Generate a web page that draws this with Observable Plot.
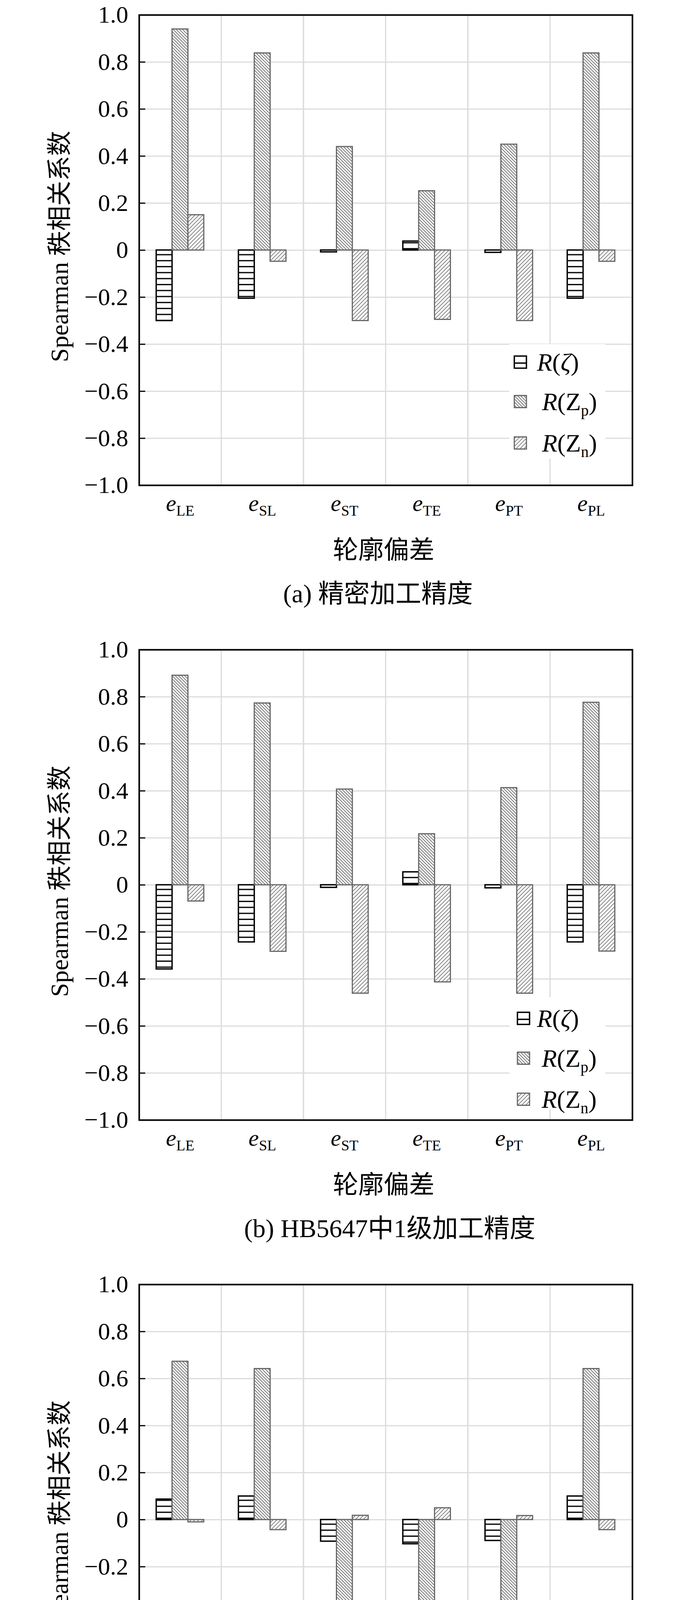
<!DOCTYPE html>
<html>
<head>
<meta charset="utf-8">
<script src="https://cdn.jsdelivr.net/npm/d3@7"></script>
<script src="https://cdn.jsdelivr.net/npm/@observablehq/plot@0.6"></script>
<style>
  html, body { margin: 0; background: #fff; }
  svg { display: block; }
  .cap {
    width: 1772px; box-sizing: border-box; height: 80px; line-height: 80px;
    margin-top: 20px; margin-bottom: 65px;
    font-size: 66px; text-align: center; color: #000; white-space: nowrap;
    font-family: "Liberation Serif", "Noto Sans CJK SC", serif;
  }
  .cap.last { margin-bottom: 0; }
</style>
</head>
<body>
<div id="root"></div>
<script>
// ---------------- data ----------------
const categories = ["LE", "SL", "ST", "TE", "PT", "PL"];
const seriesNames = ["R(ζ)", "R(Zp)", "R(Zn)"];
const yTicks = [-1, -0.8, -0.6, -0.4, -0.2, 0, 0.2, 0.4, 0.6, 0.8, 1];
const yTickLabels = ["−1.0", "−0.8", "−0.6", "−0.4", "−0.2", "0", "0.2", "0.4", "0.6", "0.8", "1.0"];

// (a) 精密加工精度
const aZeta = [-0.30, -0.205, -0.008, 0.038, -0.010, -0.205];
const aZp   = [0.94, 0.838, 0.44, 0.252, 0.45, 0.838];
const aZn   = [0.15, -0.048, -0.30, -0.295, -0.30, -0.048];
// (b) HB5647中1级加工精度
const bZeta = [-0.358, -0.243, -0.011, 0.055, -0.013, -0.243];
const bZp   = [0.891, 0.773, 0.407, 0.217, 0.413, 0.776];
const bZn   = [-0.069, -0.283, -0.461, -0.413, -0.461, -0.282];
// (c) HB5647中2级加工精度
const cZeta = [0.087, 0.100, -0.092, -0.103, -0.089, 0.100];
const cZp   = [0.673, 0.642, -0.667, -0.634, -0.667, 0.642];
const cZn   = [-0.010, -0.043, 0.018, 0.050, 0.017, -0.043];

const captions = ["(a) 精密加工精度", "(b) HB5647中1级加工精度", "(c) HB5647中2级加工精度"];
const xTitle = "轮廓偏差";
const yTitle = "Spearman 秩相关系数";

// ---------------- layout / style ----------------
const FONT = '"Liberation Serif", "Noto Sans CJK SC", serif';
const W = 1772, H = 1460, ML = 356, MR = 153, MT = 38, MB = 218;
const legendLayouts = [
  {box: [1304, 881, 1550, 1174], sx: 1317, rows: [927, 1028, 1134], tx: [1375, 1388, 1388]},
  {box: [1305, 928, 1550, 1215], sx: 1325, rows: [982, 1084, 1189], tx: [1375, 1387, 1387]},
  {box: [1339, 895, 1585, 1189], sx: 1356, rows: [938, 1040, 1145], tx: [1410, 1422, 1422]}
];
const capPad = [164, 224, 224];

function rowsOf(values) {
  return values.map((v, i) => ({cat: categories[i], value: v}));
}

function panel(k, series) {
  const bw = (W - ML - MR) / categories.length;
  const barW = 40.6, off0 = 44;
  const styles = [
    {fill: `url(#pz-${k})`, stroke: "#000", strokeWidth: 3.5},
    {fill: `url(#pp-${k})`, stroke: "#666", strokeWidth: 3},
    {fill: `url(#pn-${k})`, stroke: "#666", strokeWidth: 3}
  ];
  const barMarks = series.map((vals, i) => {
    const il = off0 + barW * i;
    return Plot.barY(rowsOf(vals), {
      x: "cat", y: "value",
      insetLeft: il, insetRight: bw - il - barW,
      ...styles[i]
    });
  });

  const plot = Plot.plot({
    width: W, height: H,
    marginLeft: ML, marginRight: MR, marginTop: MT, marginBottom: MB,
    style: {fontFamily: FONT, fontSize: "62px", color: "#000", background: "#fff", overflow: "visible"},
    x: {type: "band", domain: categories, padding: 0, round: false, axis: null},
    y: {domain: [-1, 1], ticks: yTicks, tickFormat: d => yTickLabels[yTicks.indexOf(d)],
        tickSize: 0, tickPadding: 28, label: null},
    marks: [
      Plot.ruleY(yTicks, {y: d => d, stroke: "#dcdcdc", strokeWidth: 3}),
      Plot.barY(categories, {x: d => d, y1: () => -1, y2: () => 1, fill: "none", stroke: "#dcdcdc", strokeWidth: 3}),
      ...barMarks,
      Plot.tickY(yTicks, {y: d => d, stroke: "#000", strokeWidth: 3, insetRight: (W - ML - MR) - 16}),
      Plot.frame({stroke: "#000", strokeWidth: 4})
    ]
  });

  const s = d3.select(plot);
  const sx = plot.scale("x"), sy = plot.scale("y");
  const y0 = sy.apply(0), yBottom = sy.apply(-1);

  // tick labels in serif
  s.selectAll("text").attr("font-family", FONT).attr("font-size", 62).attr("fill", "#000");

  // patterns
  const defs = s.insert("defs", ":first-child");
  const pz = defs.append("pattern").attr("id", `pz-${k}`).attr("patternUnits", "userSpaceOnUse")
    .attr("width", 20).attr("height", 15.3).attr("patternTransform", `translate(0,${y0})`);
  pz.append("rect").attr("width", 20).attr("height", 15.3).attr("fill", "#fff");
  pz.append("line").attr("x1", -1).attr("x2", 21).attr("y1", 12).attr("y2", 12)
    .attr("stroke", "#000").attr("stroke-width", 3.2);
  const pp = defs.append("pattern").attr("id", `pp-${k}`).attr("patternUnits", "userSpaceOnUse")
    .attr("width", 8).attr("height", 8);
  pp.append("rect").attr("width", 8).attr("height", 8).attr("fill", "#fff");
  pp.append("path").attr("d", "M-2,-2L10,10M-2,6L2,10M6,-2L10,2")
    .attr("stroke", "#6a6a6a").attr("stroke-width", 1.8).attr("fill", "none");
  const pn = defs.append("pattern").attr("id", `pn-${k}`).attr("patternUnits", "userSpaceOnUse")
    .attr("width", 10).attr("height", 10);
  pn.append("rect").attr("width", 10).attr("height", 10).attr("fill", "#fff");
  pn.append("path").attr("d", "M-2,12L12,-2M-2,2L2,-2M8,12L12,8")
    .attr("stroke", "#7a7a7a").attr("stroke-width", 1.8).attr("fill", "none");

  // x tick labels e_XX
  for (const c of categories) {
    const cx = sx.apply(c) + sx.bandwidth / 2;
    const t = s.append("text").attr("x", cx).attr("y", yBottom + 66).attr("font-family", FONT)
      .attr("text-anchor", "middle").attr("font-size", 60).attr("fill", "#000");
    t.append("tspan").attr("font-style", "italic").text("e");
    t.append("tspan").attr("font-size", 38).attr("dy", 12).text(c);
  }

  // axis titles
  const xMid = (sx.range[0] + sx.range[1]) / 2;
  s.append("text").attr("x", xMid - 5).attr("y", yBottom + 188).attr("text-anchor", "middle")
    .attr("font-family", FONT).attr("font-size", 65).attr("fill", "#000").text(xTitle);
  const yMid = (sy.apply(1) + sy.apply(-1)) / 2 - 9;
  s.append("text").attr("transform", `translate(152,${yMid}) rotate(-90)`)
    .attr("text-anchor", "middle").attr("dominant-baseline", "central").attr("font-family", FONT)
    .attr("font-size", 64).attr("fill", "#000").text(yTitle);

  // legend
  const L = legendLayouts[k];
  const lg = s.append("g").attr("text-anchor", "start");
  lg.append("rect").attr("x", L.box[0]).attr("y", L.box[1])
    .attr("width", L.box[2] - L.box[0]).attr("height", L.box[3] - L.box[1]).attr("fill", "#fff");
  const sw = 31;
  L.rows.forEach((cy, i) => {
    const top = cy - sw / 2;
    if (i === 0) {
      lg.append("rect").attr("x", L.sx).attr("y", top).attr("width", sw).attr("height", sw)
        .attr("fill", "#fff").attr("stroke", "#000").attr("stroke-width", 3.5);
      lg.append("line").attr("x1", L.sx).attr("x2", L.sx + sw).attr("y1", top + 18).attr("y2", top + 18)
        .attr("stroke", "#000").attr("stroke-width", 3.5);
    } else {
      lg.append("rect").attr("x", L.sx).attr("y", top).attr("width", sw).attr("height", sw)
        .attr("fill", i === 1 ? `url(#pp-${k})` : `url(#pn-${k})`).attr("stroke", "#666").attr("stroke-width", 3);
    }
    const t = lg.append("text").attr("x", L.tx[i]).attr("y", cy + 22).attr("text-anchor", "start")
      .attr("font-family", FONT).attr("font-size", 64).attr("fill", "#000");
    t.append("tspan").attr("font-style", "italic").text("R");
    t.append("tspan").text("(");
    if (i === 0) {
      t.append("tspan").attr("font-style", "italic").text("ζ");
      t.append("tspan").text(")");
    } else {
      t.append("tspan").text("Z");
      t.append("tspan").attr("font-size", 40).attr("dy", 14).text(i === 1 ? "p" : "n");
      t.append("tspan").attr("dy", -14).text(")");
    }
  });

  return plot;
}

const root = document.getElementById("root");
const allSeries = [[aZeta, aZp, aZn], [bZeta, bZp, bZn], [cZeta, cZp, cZn]];
allSeries.forEach((series, k) => {
  root.appendChild(panel(k, series));
  const cap = document.createElement("div");
  cap.className = k === allSeries.length - 1 ? "cap last" : "cap";
  cap.style.paddingLeft = capPad[k] + "px";
  cap.textContent = captions[k];
  root.appendChild(cap);
});
</script>
</body>
</html>
